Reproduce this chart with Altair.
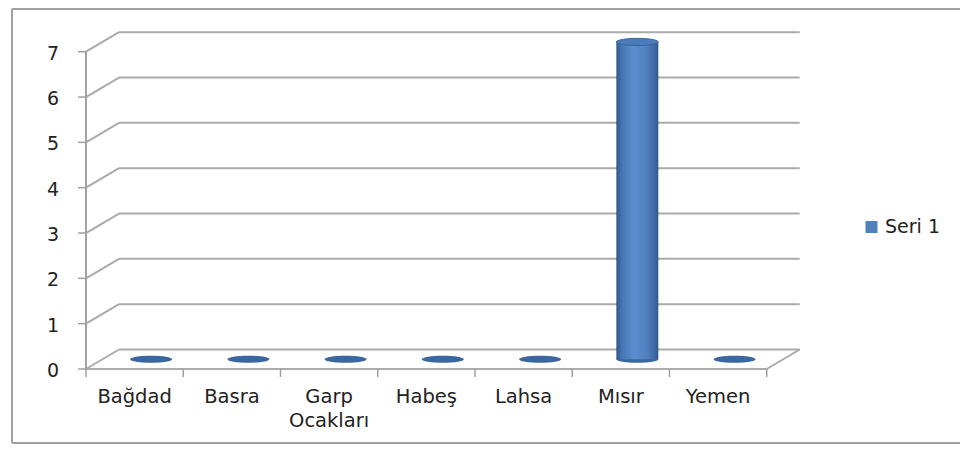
import altair as alt
import pandas as pd

# ---- data ----
categories = ["Bağdad", "Basra", "Garp\nOcakları", "Habeş", "Lahsa", "Mısır", "Yemen"]
values = [0, 0, 0, 0, 0, 7, 0]
y_ticks = [0, 1, 2, 3, 4, 5, 6, 7]
series_name = ["Seri 1"]

n = len(categories)
cat_df = pd.DataFrame({"idx": list(range(n)), "name": categories, "value": values})
tick_df = pd.DataFrame({"v": y_ticks})
bound_df = pd.DataFrame({"b": list(range(n + 1))})
legend_df = pd.DataFrame({"label": series_name})
one_df = pd.DataFrame({"k": [0]})

# ---- styling ----
DX, DY = 33, -19.5          # 3D depth offset of the back wall
HX, HY = DX / 2, DY / 2     # cylinders sit at mid depth
GRID = "#ABABAB"
AXIS = "#A0A0A0"
TEXT = "#222222"
FONT = "DejaVu Sans"
BLUE = "#4F81BD"
ELLIPSE = "M-1,0A1,0.17,0,1,0,1,0A1,0.17,0,1,0,-1,0Z"

xs = alt.Scale(domain=[0, n], range=[73, 763.7])
ys = alt.Scale(domain=[0, 7], range=[361, 43.7])


def X(**kw):
    return alt.X(scale=xs, axis=None, **kw)


def Y(**kw):
    return alt.Y(scale=ys, axis=None, **kw)


# chart border
border_left = alt.Chart(one_df).mark_rule(color=AXIS, strokeWidth=2).encode(
    x=alt.value(4), y=alt.value(1), y2=alt.value(435))
border_top = alt.Chart(one_df).mark_rule(color=AXIS, strokeWidth=2).encode(
    x=alt.value(4), x2=alt.value(952), y=alt.value(1))
border_bottom = alt.Chart(one_df).mark_rule(color=AXIS, strokeWidth=2).encode(
    x=alt.value(4), x2=alt.value(952), y=alt.value(435))

# back wall gridlines
grid = alt.Chart(tick_df).mark_rule(
    color=GRID, strokeWidth=2, xOffset=DX, x2Offset=DX, yOffset=DY, y2Offset=DY
).encode(x=X(datum=0), x2=alt.X2(datum=n), y=Y(field="v", type="quantitative"), y2=alt.Y2(field="v"))

# side wall diagonals
diag = alt.Chart(tick_df).mark_rule(
    color=GRID, strokeWidth=2, x2Offset=DX, y2Offset=DY
).encode(x=X(datum=0), x2=alt.X2(datum=0), y=Y(field="v", type="quantitative"), y2=alt.Y2(field="v"))

# floor front edge and right diagonal
floor_front = alt.Chart(one_df).mark_rule(color=GRID, strokeWidth=2).encode(
    x=X(datum=0), x2=alt.X2(datum=n), y=Y(datum=0), y2=alt.Y2(datum=0))
floor_right = alt.Chart(one_df).mark_rule(
    color=GRID, strokeWidth=2, x2Offset=DX, y2Offset=DY
).encode(x=X(datum=n), x2=alt.X2(datum=n), y=Y(datum=0), y2=alt.Y2(datum=0))

# y axis line + ticks
yaxis = alt.Chart(one_df).mark_rule(color=AXIS, strokeWidth=2).encode(
    x=X(datum=0), y=Y(datum=0), y2=alt.Y2(datum=7))
yticks = alt.Chart(tick_df).mark_rule(color=AXIS, strokeWidth=1.5, xOffset=-8).encode(
    x=X(datum=0), x2=alt.X2(datum=0), y=Y(field="v", type="quantitative"), y2=alt.Y2(field="v"))
ylabels = alt.Chart(tick_df).mark_text(
    align="right", baseline="alphabetic", dx=-27, dy=8, font=FONT, fontSize=19, color=TEXT
).encode(x=X(datum=0), y=Y(field="v", type="quantitative"), text=alt.Text("v:Q"))

# category ticks and labels
xticks = alt.Chart(bound_df).mark_rule(color=AXIS, strokeWidth=1.5, y2Offset=8).encode(
    x=X(field="b", type="quantitative"), x2=alt.X2(field="b"), y=Y(datum=0), y2=alt.Y2(datum=0))
xlabels = alt.Chart(cat_df).transform_calculate(c="datum.idx + 0.5").mark_text(
    align="center", baseline="alphabetic", dy=34, lineBreak="\n", lineHeight=24,
    font=FONT, fontSize=19.5, color=TEXT
).encode(x=X(field="c", type="quantitative"), y=Y(datum=0), text=alt.Text("name:N"))

# cylinders
bottoms = alt.Chart(cat_df).transform_calculate(c="datum.idx + 0.5").mark_point(
    shape=ELLIPSE, size=1764, filled=True, opacity=1, color="#3A679E",
    xOffset=HX, yOffset=HY
).encode(x=X(field="c", type="quantitative"), y=Y(datum=0))

body_grad = alt.Gradient(
    gradient="linear", x1=0, x2=1, y1=0, y2=0,
    stops=[
        alt.GradientStop(color="#33588A", offset=0),
        alt.GradientStop(color="#4A78B6", offset=0.15),
        alt.GradientStop(color="#5B8DD0", offset=0.42),
        alt.GradientStop(color="#4F80C0", offset=0.72),
        alt.GradientStop(color="#3F6AA3", offset=0.9),
        alt.GradientStop(color="#34598B", offset=1),
    ],
)
bodies = alt.Chart(cat_df).transform_calculate(c="datum.idx + 0.5").mark_bar(
    size=42, color=body_grad, xOffset=HX, yOffset=HY, y2Offset=HY
).encode(x=X(field="c", type="quantitative"), y=Y(field="value", type="quantitative"), y2=alt.Y2(datum=0))

tops = alt.Chart(cat_df).transform_filter("datum.value > 0").transform_calculate(
    c="datum.idx + 0.5").mark_point(
    shape=ELLIPSE, size=1764, filled=True, opacity=1, color="#4A7CBC",
    stroke="#3A6496", strokeWidth=1, xOffset=HX, yOffset=HY
).encode(x=X(field="c", type="quantitative"), y=Y(field="value", type="quantitative"))

# legend
leg_sym = alt.Chart(legend_df).mark_square(size=144, filled=True, opacity=1, color=BLUE).encode(
    x=alt.value(863.5), y=alt.value(219))
leg_txt = alt.Chart(legend_df).mark_text(
    align="left", baseline="alphabetic", font=FONT, fontSize=19, color=TEXT
).encode(x=alt.value(877), y=alt.value(225), text=alt.Text("label:N"))

chart = alt.layer(
    border_left, border_top, border_bottom,
    grid, diag, floor_front, floor_right,
    yaxis, yticks, ylabels, xticks, xlabels,
    bottoms, bodies, tops, leg_sym, leg_txt,
).properties(
    width=952, height=436, padding=0,
    autosize=alt.AutoSizeParams(type="none"),
).configure_view(stroke="transparent")

chart.save("out.html", embed_options={"renderer": "svg", "actions": False})
